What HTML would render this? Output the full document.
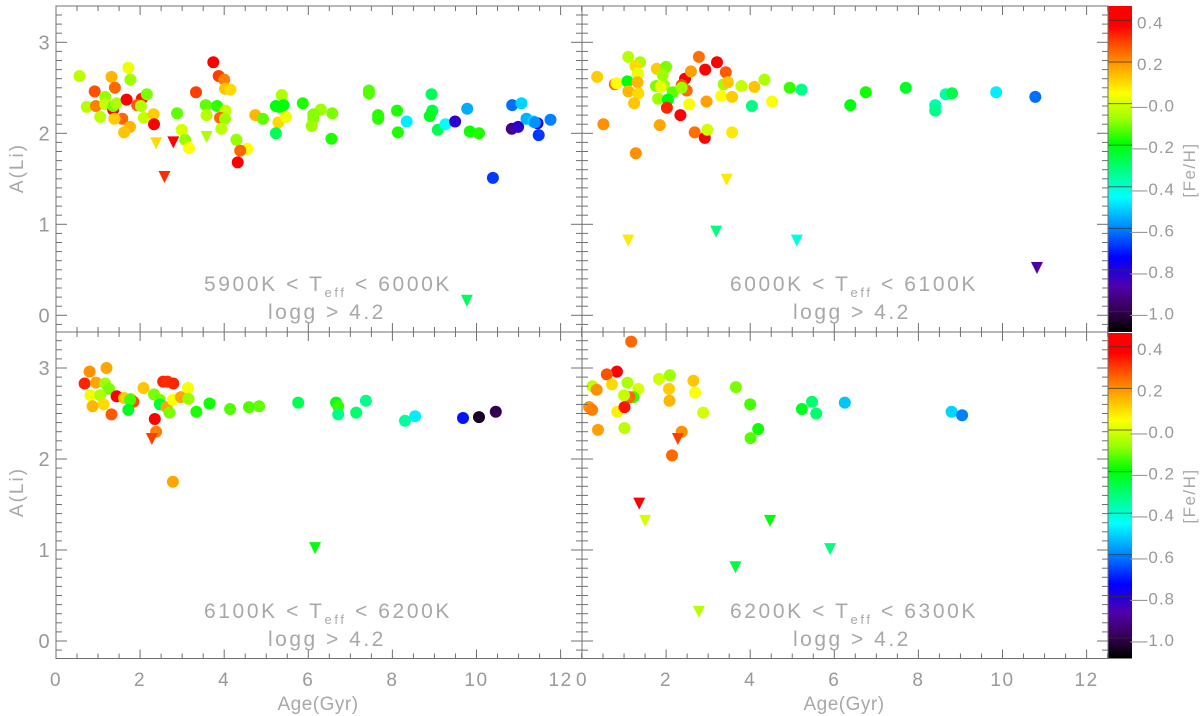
<!DOCTYPE html>
<html>
<head>
<meta charset="utf-8">
<title>A(Li) vs Age</title>
<style>
html,body{margin:0;padding:0;background:#fff}
svg{display:block}
text{font-family:"Liberation Sans",sans-serif;fill:#999}
</style>
</head>
<body>
<svg id="chart" xmlns="http://www.w3.org/2000/svg" width="1200" height="716" viewBox="0 0 1200 716">
<defs></defs>
<rect x="0" y="0" width="1200" height="716" fill="#fff"/>
<g id="layer-bars"></g>
<g id="layer-marks"></g>
<g id="layer-axes"></g>
<g id="layer-labels" font-size="20"></g>

<text transform="translate(23,168) rotate(-90)" text-anchor="middle" font-size="19" letter-spacing="2" style="fill:#a8a8a8">A(Li)</text>
<text transform="translate(23,492) rotate(-90)" text-anchor="middle" font-size="19" letter-spacing="2" style="fill:#a8a8a8">A(Li)</text>
<text x="318" y="710" text-anchor="middle" font-size="19" letter-spacing="0.5" style="fill:#a8a8a8">Age(Gyr)</text>
<text x="844" y="710" text-anchor="middle" font-size="19" letter-spacing="0.5" style="fill:#a8a8a8">Age(Gyr)</text>
<text transform="translate(1195,170) rotate(-90)" text-anchor="middle" font-size="17" letter-spacing="1.5" style="fill:#a8a8a8">[Fe/H]</text>
<text transform="translate(1195,496) rotate(-90)" text-anchor="middle" font-size="17" letter-spacing="1.5" style="fill:#a8a8a8">[Fe/H]</text>

<text x="204" y="291" font-size="21" letter-spacing="2.6" style="fill:#a8a8a8">5900K &lt; T<tspan font-size="13" dy="6">eff</tspan><tspan dy="-6"> &lt; 6000K</tspan></text>
<text x="268" y="319" font-size="21" letter-spacing="2.5" style="fill:#a8a8a8">logg &gt; 4.2</text>
<text x="730" y="291" font-size="21" letter-spacing="2.6" style="fill:#a8a8a8">6000K &lt; T<tspan font-size="13" dy="6">eff</tspan><tspan dy="-6"> &lt; 6100K</tspan></text>
<text x="793" y="319" font-size="21" letter-spacing="2.5" style="fill:#a8a8a8">logg &gt; 4.2</text>
<text x="204" y="618" font-size="21" letter-spacing="2.6" style="fill:#a8a8a8">6100K &lt; T<tspan font-size="13" dy="6">eff</tspan><tspan dy="-6"> &lt; 6200K</tspan></text>
<text x="268" y="646" font-size="21" letter-spacing="2.5" style="fill:#a8a8a8">logg &gt; 4.2</text>
<text x="730" y="618" font-size="21" letter-spacing="2.6" style="fill:#a8a8a8">6200K &lt; T<tspan font-size="13" dy="6">eff</tspan><tspan dy="-6"> &lt; 6300K</tspan></text>
<text x="793" y="646" font-size="21" letter-spacing="2.5" style="fill:#a8a8a8">logg &gt; 4.2</text>
</svg>

<script>
// Panel 1: 5900-6000 K
var p1Age=[.56,.92,1.32,1.40,1.72,1.77,.73,.95,1.17,1.17,1.36,1.36,1.44,1.68,2.04,2.16,1.93,2.02,1.05,1.58,1.39,2.09,2.32,1.76,1.62,2.33,2.88,2.99,3.07,3.16,3.33,3.74,3.87,4.0,4.02,4.15,3.56,3.83,4.03,3.58,3.90,4.02,3.93,4.29,4.55,4.38,4.32,4.74,4.92,5.37,5.23,5.31,5.41,5.29,5.47,5.23,5.87,6.30,6.12,6.12,6.08,6.57,6.55,7.44,7.44,7.66,7.66,8.11,8.13,8.34,8.93,8.95,8.89,9.08,9.26,9.49,9.78,9.84,10.06,10.39,10.85,11.07,10.84,10.99,11.19,11.35,11.45,11.39,11.48,11.76];
var p1Li=[2.63,2.46,2.62,2.50,2.72,2.59,2.29,2.30,2.40,2.32,2.26,2.30,2.33,2.37,2.38,2.43,2.31,2.30,2.18,2.16,2.16,2.17,2.21,2.07,2.01,2.10,2.22,2.04,1.93,1.84,2.45,2.78,2.63,2.59,2.49,2.48,2.31,2.30,2.25,2.20,2.17,2.16,2.05,1.93,1.83,1.81,1.68,2.20,2.16,2.42,2.30,2.29,2.31,2.12,2.18,2.00,2.33,2.26,2.21,2.16,2.08,2.22,1.94,2.47,2.44,2.20,2.16,2.25,2.01,2.13,2.43,2.25,2.19,2.04,2.10,2.13,2.27,2.02,2.00,1.51,2.31,2.33,2.05,2.07,2.16,2.13,2.11,2.12,1.98,2.15];
var p1Feh=[-.03,.28,.15,.25,.03,-.07,-.04,.22,-.08,-.02,.37,-.1,-.05,.4,.35,-.1,.27,-.05,-.03,.25,.12,-.02,.12,.15,.13,.38,-.12,0,-.08,.05,.3,.38,.3,.22,.13,.1,-.12,-.16,-.02,-.04,.25,-.07,-.03,-.08,.05,.25,.38,.15,-.12,-.05,-.2,-.2,-.2,.1,.03,-.28,-.17,-.07,-.09,-.09,-.07,-.1,-.17,-.13,-.13,-.16,-.16,-.17,-.17,-.47,-.28,-.26,-.22,-.27,-.45,-.82,-.55,-.18,-.17,-.68,-.62,-.5,-.92,-.82,-.54,-.5,-.8,-.58,-.68,-.6];
var p1LimAge=[2.38,2.79,3.58,2.58,9.77];
var p1LimLi=[1.89,1.90,1.96,1.52,.16];
var p1LimFeh=[.1,.38,-.05,.32,-.28];

// Panel 2: 6000-6100 K
var p2Age=[.36,.51,.78,.82,1.08,1.10,1.38,1.27,1.33,1.32,1.10,1.34,1.24,1.28,1.78,2.0,1.92,1.76,1.95,1.87,1.81,2.16,2.04,2.02,1.85,2.34,2.45,2.37,2.49,2.37,2.55,2.59,2.78,2.93,3.21,3.42,2.96,2.68,2.92,2.98,3.57,3.37,3.47,3.31,3.57,3.79,4.10,4.34,4.04,4.52,4.94,5.22,6.38,6.75,7.7,8.4,8.4,8.65,8.8,9.85,10.78];
var p2Li=[2.62,2.10,2.54,2.55,2.57,2.84,2.78,2.74,2.66,2.56,2.46,2.44,2.33,1.78,2.71,2.73,2.64,2.52,2.53,2.51,2.38,2.45,2.37,2.28,2.09,2.20,2.60,2.53,2.47,2.50,2.32,2.68,2.84,2.70,2.78,2.67,2.35,2.01,1.95,2.04,2.01,2.54,2.56,2.41,2.40,2.52,2.51,2.59,2.30,2.35,2.50,2.48,2.31,2.45,2.50,2.31,2.25,2.43,2.44,2.45,2.40];
var p2Feh=[.12,.2,.25,.05,-.2,-.04,-.06,.1,.02,.15,.15,.1,.13,.2,.12,-.1,-.07,-.1,-.07,.02,-.07,-.12,-.2,.33,.17,.38,.38,.28,.25,-.07,.04,.18,.24,.4,.38,.27,.18,.24,.4,-.01,.08,-.07,.13,.05,.12,-.02,.13,-.05,-.32,.04,-.15,-.33,-.2,-.18,-.23,-.37,-.33,-.36,-.26,-.47,-.62];
var p2LimAge=[3.44,1.1,3.19,5.11,10.82];
var p2LimLi=[1.49,.82,.92,.82,.52];
var p2LimFeh=[.08,.08,-.32,-.42,-.88];

// Panel 3: 6100-6200 K
var p3Age=[.80,1.20,.68,.95,1.17,1.26,.82,1.05,.87,1.13,1.32,1.44,1.62,1.78,1.84,1.76,1.72,2.08,2.33,2.35,2.38,2.47,2.47,2.63,2.70,2.78,2.55,2.65,2.79,2.78,2.97,3.14,3.15,3.34,3.65,4.14,4.59,4.83,5.76,6.66,6.71,6.71,7.14,7.37,8.3,8.54,9.68,10.06,10.46];
var p3Li=[2.96,3.0,2.83,2.84,2.83,2.77,2.70,2.70,2.58,2.60,2.49,2.69,2.67,2.66,2.63,2.65,2.54,2.78,2.71,2.44,2.30,2.65,2.60,2.57,2.51,2.65,2.85,2.85,2.83,1.75,2.68,2.78,2.66,2.52,2.61,2.55,2.57,2.58,2.62,2.62,2.58,2.49,2.51,2.64,2.42,2.47,2.45,2.46,2.52];
var p3Feh=[.2,.17,.33,.17,-.07,-.1,.03,-.05,.15,.1,.27,.38,.12,.12,.28,-.14,-.22,.13,-.1,.4,.22,-.1,-.25,.17,-.1,.05,.33,.32,.33,.17,.17,.04,-.08,-.17,-.18,-.13,-.13,-.12,-.27,-.22,-.15,-.33,-.3,-.33,-.35,-.47,-.72,-1.05,-1.0];
var p3LimAge=[2.28,6.16];
var p3LimLi=[2.22,1.02];
var p3LimFeh=[.3,-.2];

// Panel 4: 6200-6300 K
var p4Age=[1.17,.83,.59,.25,.35,.71,1.08,1.34,1.22,1.13,1.0,.84,1.01,.17,.24,.38,1.01,1.83,2.09,2.07,2.08,2.65,2.69,2.88,2.37,2.14,3.66,4.0,4.19,4.01,5.23,5.47,5.57,6.25,8.79,9.04];
var p4Li=[3.29,2.96,2.93,2.80,2.76,2.82,2.84,2.77,2.68,2.68,2.70,2.52,2.57,2.57,2.54,2.32,2.34,2.88,2.92,2.77,2.64,2.86,2.73,2.51,2.30,2.04,2.79,2.60,2.33,2.23,2.55,2.63,2.50,2.62,2.52,2.48];
var p4Feh=[.25,.4,.28,-.03,.2,.1,-.05,0,-.15,.25,-.02,.07,.35,.2,.22,.18,-.03,-.01,-.07,.12,.15,.13,.05,-.01,.2,.25,-.1,-.14,-.18,-.13,-.22,-.3,-.3,-.52,-.5,-.6];
var p4LimAge=[2.28,1.36,1.50,4.47,3.65,5.9,2.78];
var p4LimLi=[2.22,1.51,1.32,1.32,.81,1.01,.32];
var p4LimFeh=[.3,.37,0,-.2,-.25,-.32,-.04];

// Axis tick labels
var xTickLabels=[0,2,4,6,8,10,12];
var yTickLabels=[0,1,2,3];
var cbTickLabels=[0.4,0.2,-0.0,-0.2,-0.4,-0.6,-0.8,-1.0];
var cbTickText=['0.4','0.2','\u20140.0','\u20140.2','\u20140.4','\u20140.6','\u20140.8','\u20141.0'];

// Colour map anchors: [Fe/H] value and colour
var cmapFeh=[0.47,0.37,0.28,0.18,0.05,-0.08,-0.19,-0.45,-0.60,-0.74,-0.88,-1.0,-1.09];
var cmapRgb=[[255,0,0],[255,0,0],[255,80,0],[255,160,0],[255,255,0],[150,255,0],[0,255,0],[0,255,255],[0,130,255],[0,0,255],[80,0,170],[50,0,80],[0,0,0]];

var NS='http://www.w3.org/2000/svg';
var AXIS='#707070';
var barsLayer=document.getElementById('layer-bars');
var marksLayer=document.getElementById('layer-marks');
var axesLayer=document.getElementById('layer-axes');
var labelsLayer=document.getElementById('layer-labels');

function fehColor(f){
  if(f>=cmapFeh[0]){return 'rgb('+cmapRgb[0].join(',')+')';}
  for(var i=1;i<cmapFeh.length;i++){
    if(f>=cmapFeh[i]){
      var t=(f-cmapFeh[i])/(cmapFeh[i-1]-cmapFeh[i]);
      var a=cmapRgb[i],b=cmapRgb[i-1];
      return 'rgb('+Math.round(a[0]+(b[0]-a[0])*t)+','+Math.round(a[1]+(b[1]-a[1])*t)+','+Math.round(a[2]+(b[2]-a[2])*t)+')';
    }
  }
  return 'rgb(0,0,0)';
}
function el(tag,parent,attrs){
  var e=document.createElementNS(NS,tag);
  for(var k in attrs){e.setAttribute(k,attrs[k]);}
  parent.appendChild(e);
  return e;
}
function tickLine(x1,y1,x2,y2,w){
  var l=el('line',axesLayer,{x1:x1,y1:y1,x2:x2,y2:y2,stroke:AXIS,'stroke-width':w||1});
  
  
}

function drawPanel(n,px,top,bottom,zeroY,ages,lis,fehs,limA,limL,limF,showXLabels,showYLabels){
  var xs=function(a){return px+a*42.05;};
  var ys=function(v){return zeroY-v*91;};
  var right=px+526;
  var i,v;
  var frame=el('rect',axesLayer,{x:px,y:top,width:526,height:bottom-top,fill:'none',stroke:AXIS,'stroke-width':1});
  
  
  for(i=0;i<=25;i++){
    v=i*0.5;
    var mx=(i%4===0);
    var len=mx?9:5;
    tickLine(xs(v),bottom,xs(v),bottom-len);
    tickLine(xs(v),top,xs(v),top+len);
  }
  for(i=-1;i<=33;i++){
    v=i*0.1;
    var my=(i%10===0);
    var ln=my?11:6;
    tickLine(px,ys(v),px+ln,ys(v));
    tickLine(right,ys(v),right-ln,ys(v));
  }
  for(i=0;i<ages.length;i++){
    var c=el('circle',marksLayer,{cx:xs(ages[i]).toFixed(1),cy:ys(lis[i]).toFixed(1),r:6,fill:fehColor(fehs[i])});
    
    
  }
  for(i=0;i<limA.length;i++){
    var tx=xs(limA[i]),ty=ys(limL[i]);
    var t=el('polygon',marksLayer,{points:(tx-6)+','+(ty-6)+' '+(tx+6)+','+(ty-6)+' '+tx+','+(ty+6),fill:fehColor(limF[i])});
    
    
  }
  if(showXLabels){
    xTickLabels.forEach(function(val){
      var tl=el('text',labelsLayer,{x:xs(val),y:686,'text-anchor':'middle','font-size':19,'letter-spacing':1.5});
      
      
      tl.textContent=val;
    });
  }
  if(showYLabels){
    yTickLabels.forEach(function(val){
      var tl=el('text',labelsLayer,{x:44,y:ys(val)+7,'text-anchor':'middle','font-size':20});
      
      
      tl.textContent=val;
    });
  }
}

function drawColorbar(n,top,bottom,fehZeroY){
  var r=el('rect',barsLayer,{x:1108,y:top,width:24,height:bottom-top,fill:'url(#cbGradS'+n+')'});
  
  
  var g=el('linearGradient',document.querySelector('defs'),{id:'cbGradS'+n,gradientUnits:'userSpaceOnUse',x1:0,y1:top,x2:0,y2:bottom});
  cmapFeh.forEach(function(f,i){
    var y=fehZeroY-f*208;
    var off=Math.max(0,Math.min(1,(y-top)/(bottom-top)));
    el('stop',g,{offset:off.toFixed(4),'stop-color':'rgb('+cmapRgb[i].join(',')+')'});
  });
  cbTickLabels.forEach(function(f,i){
    var y=fehZeroY-f*208;
    var tk=el('line',barsLayer,{x1:1108,y1:y,x2:1132,y2:y,stroke:'#303030','stroke-opacity':0.7,'stroke-width':1});
    
    
    var isNeg=cbTickText[i].charAt(0)==='\u2014';
    var tl=el('text',labelsLayer,{x:1175,y:y+8,'text-anchor':'end','font-size':17,'letter-spacing':1});
    
    
    if(!isNeg){tl.setAttribute('x',1137);tl.setAttribute('text-anchor','start');}
    tl.textContent=cbTickText[i];
  });
}

drawColorbar(1,6,332,103.6);
drawColorbar(2,333,658.5,430);
drawPanel(1,56,6,332,315.3,p1Age,p1Li,p1Feh,p1LimAge,p1LimLi,p1LimFeh,false,true);
drawPanel(2,582,6,332,315.3,p2Age,p2Li,p2Feh,p2LimAge,p2LimLi,p2LimFeh,false,false);
drawPanel(3,56,332,658.5,641,p3Age,p3Li,p3Feh,p3LimAge,p3LimLi,p3LimFeh,true,true);
drawPanel(4,582,332,658.5,641,p4Age,p4Li,p4Feh,p4LimAge,p4LimLi,p4LimFeh,true,false);
</script>
</body>
</html>
